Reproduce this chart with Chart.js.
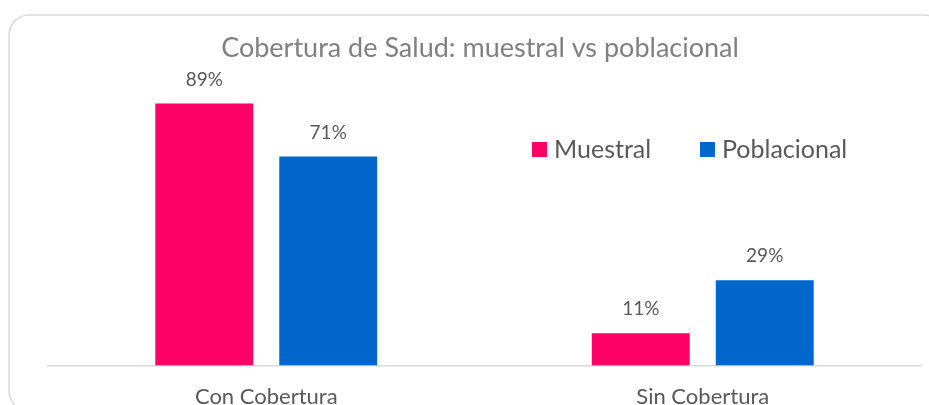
<!DOCTYPE html>
<html>
<head>
<meta charset="utf-8">
<script src="https://cdn.jsdelivr.net/npm/chart.js@4.4.0/dist/chart.umd.min.js"></script>
<style>
  html, body { margin: 0; padding: 0; background: #fff; overflow: hidden; }
  #clip { width: 929px; height: 405px; overflow: hidden; }
  #wrap { position: relative; width: 929px; height: 420px; }
</style>
</head>
<body>
<div id="clip"><div id="wrap"><canvas id="chart"></canvas></div></div>
<script>
// Chart data
const titleText = 'Cobertura de Salud: muestral vs poblacional';
const categories = ['Con Cobertura', 'Sin Cobertura'];
const seriesNames = ['Muestral', 'Poblacional'];
const muestral = [89, 11];
const poblacional = [71, 29];
const seriesColors = ['#ff0066', '#0066cc'];

const textGrey = '#595959';
const fontFamily = 'Lato, "Open Sans", sans-serif';

// Frame, title, legend and value labels drawn on the canvas
const decorPlugin = {
    id: 'decor',
    beforeDraw(chart) {
        const ctx = chart.ctx;
        ctx.save();
        ctx.strokeStyle = '#d9d9d9';
        ctx.lineWidth = 1.5;
        ctx.beginPath();
        ctx.roundRect(9, 15, 935, 396, 20);
        ctx.stroke();

        ctx.fillStyle = '#808080';
        ctx.font = '27px ' + fontFamily;
        ctx.textAlign = 'center';
        ctx.textBaseline = 'middle';
        ctx.fillText(titleText, 480, 48);
        ctx.restore();
    },
    afterDatasetsDraw(chart) {
        const ctx = chart.ctx;
        ctx.save();
        // value labels
        ctx.font = '19px ' + fontFamily;
        ctx.fillStyle = textGrey;
        ctx.textAlign = 'center';
        ctx.textBaseline = 'middle';
        chart.data.datasets.forEach((ds, i) => {
            chart.getDatasetMeta(i).data.forEach((bar, j) => {
                ctx.fillText(ds.data[j] + '%', bar.x, bar.y - 24);
            });
        });
        // legend
        const legendX = [532, 700];
        ctx.font = '25px ' + fontFamily;
        ctx.textAlign = 'left';
        chart.data.datasets.forEach((ds, i) => {
            ctx.fillStyle = ds.backgroundColor;
            ctx.fillRect(legendX[i], 142, 15, 15);
            ctx.fillStyle = textGrey;
            ctx.fillText(ds.label, legendX[i] + 22, 150);
        });
        ctx.restore();
    }
};

new Chart(document.getElementById('chart'), {
    type: 'bar',
    data: {
        labels: categories,
        datasets: [
            { label: seriesNames[0], data: muestral, backgroundColor: seriesColors[0] },
            { label: seriesNames[1], data: poblacional, backgroundColor: seriesColors[1] }
        ]
    },
    options: {
        responsive: true,
        maintainAspectRatio: false,
        animation: false,
        layout: { padding: { left: 48, right: 8, top: 71, bottom: 0 } },
        datasets: { bar: { categoryPercentage: 0.568, barPercentage: 0.79 } },
        scales: {
            x: {
                grid: { display: false },
                border: { display: true, color: '#d9d9d9', width: 1.5 },
                ticks: { color: textGrey, font: { family: fontFamily, size: 22 }, padding: 10 }
            },
            y: { display: false, min: 0, max: 100 }
        },
        plugins: {
            legend: { display: false },
            title: { display: false },
            tooltip: { enabled: false }
        }
    },
    plugins: [decorPlugin]
});
</script>
</body>
</html>
